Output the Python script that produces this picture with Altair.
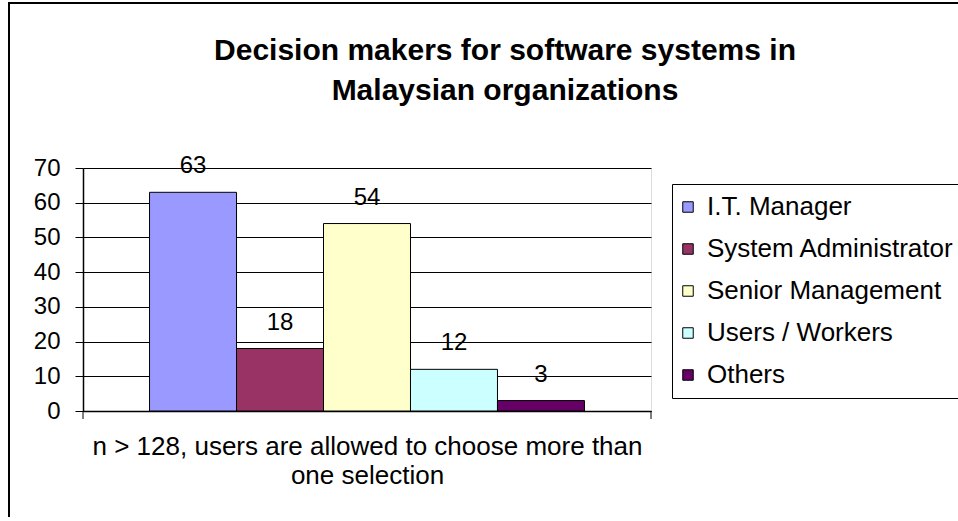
import altair as alt
import pandas as pd

categories = ["I.T. Manager", "System Administrator", "Senior Management", "Users / Workers", "Others"]
values = [63, 18, 54, 12, 3]
colors = ["#9999FF", "#993366", "#FFFFCC", "#CCFFFF", "#660066"]
y_ticks = [0, 10, 20, 30, 40, 50, 60, 70]
title_lines = ["Decision makers for software systems in", "Malaysian organizations"]
x_title_lines = ["n > 128, users are allowed to choose more than", "one selection"]

df = pd.DataFrame({"role": categories, "count": values})
one = pd.DataFrame({"k": [0]})

W, H = 568, 243
FONT = "Liberation Sans"

x_axis = alt.Axis(
    labels=False, ticks=False, domain=True, domainColor="black", domainWidth=1.5,
    title=x_title_lines, titleFontSize=26, titleFont=FONT, titleFontWeight="normal",
    titlePadding=22, titleLineHeight=29, titleColor="black",
)
y_axis = alt.Axis(
    values=y_ticks, tickCount=8, title=None, grid=True, gridColor="black", gridWidth=1,
    domain=True, domainColor="black", domainWidth=1.5, ticks=True, tickColor="black",
    tickSize=8, labelFontSize=24, labelFont=FONT, labelColor="black", labelPadding=15,
    labelOverlap=False, labelBound=False, labelFlush=False,
)
x_scale = alt.Scale(paddingInner=0, paddingOuter=0.765)
y_scale = alt.Scale(domain=[0, 70])

x_enc = alt.X("role:N", sort=categories, scale=x_scale, axis=x_axis)
y_enc = alt.Y("count:Q", scale=y_scale, axis=y_axis)

color_enc = alt.Color(
    "role:N",
    sort=categories,
    scale=alt.Scale(domain=categories, range=colors),
    legend=alt.Legend(
        title=None, orient="none", legendX=589, legendY=16,
        fillColor="white", strokeColor="black", padding=10, rowPadding=16,
        labelFontSize=26, labelFont=FONT, labelColor="black", labelLimit=500,
        symbolType="square", symbolSize=110, symbolStrokeColor="black",
        symbolStrokeWidth=1, labelOffset=6, symbolOffset=-7,
    ),
)

frame = alt.Chart(one).mark_rect(fill="white", fillOpacity=0, stroke="black", strokeWidth=2).encode(
    x=alt.value(-74), x2=alt.value(1000), y=alt.value(-165), y2=alt.value(700)
)

bars = alt.Chart(df).mark_bar(stroke="black", strokeWidth=1).encode(
    x=x_enc, y=y_enc, color=color_enc
)

labels = alt.Chart(df).mark_text(
    baseline="bottom", dy=-14, fontSize=24, font=FONT, color="black"
).encode(x=x_enc, y=y_enc, text="count:Q")

tick_l = alt.Chart(one).mark_rule(color="black", strokeWidth=1).encode(
    x=alt.value(0), y=alt.value(H), y2=alt.value(H + 8)
)
tick_r = alt.Chart(one).mark_rule(color="black", strokeWidth=1).encode(
    x=alt.value(W), y=alt.value(H), y2=alt.value(H + 8)
)

chart = alt.layer(bars, labels, frame, tick_l, tick_r).properties(
    width=W,
    height=H,
    padding={"left": 83, "top": 168, "right": 307, "bottom": 106},
    autosize=alt.AutoSizeParams(type="none"),
    title=alt.TitleParams(
        text=title_lines, fontSize=30, font=FONT, fontWeight="bold", anchor="middle",
        dx=138, offset=-104, lineHeight=40, color="black", frame="group",
    ),
).configure_view(fill="#C0C0C0", stroke="#808080", strokeWidth=1).configure(background="white")

chart.save("out.html", embed_options={"renderer": "svg", "actions": False})
